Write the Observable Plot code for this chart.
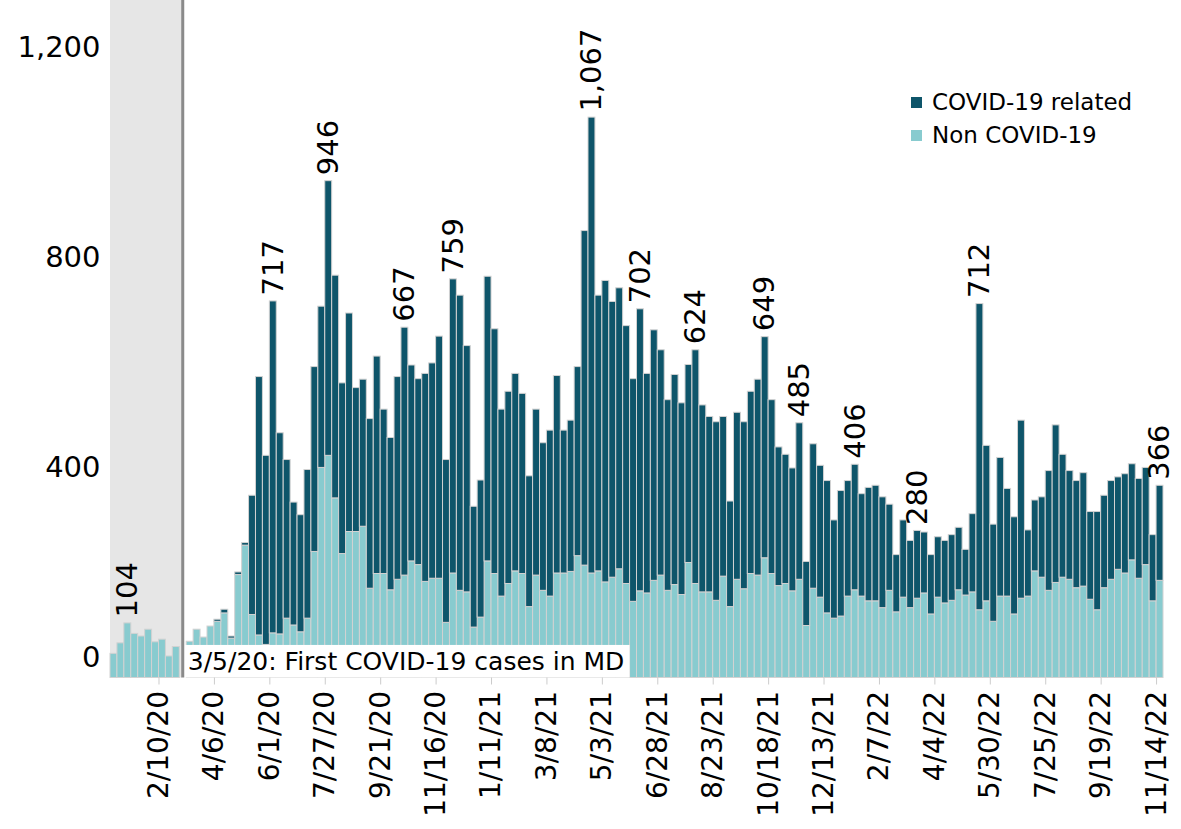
<!DOCTYPE html>
<html>
<head>
<meta charset="utf-8">
<script src="https://cdn.jsdelivr.net/npm/d3@7"></script>
<script src="https://cdn.jsdelivr.net/npm/@observablehq/plot@0.6"></script>
<style>
  html, body { margin: 0; padding: 0; background: white; }
  #wrap { position: relative; width: 1181px; height: 829px; font-family: "DejaVu Sans", sans-serif; }
  #legend { position: absolute; left: 911px; top: 86px; font-size: 23px; line-height: 33px; color: #000; }
  #legend .sw { display: inline-block; width: 11px; height: 11px; margin-right: 10px; vertical-align: 2px; }
</style>
</head>
<body>
<div id="wrap"></div>
<script>
// ---- Data (weekly admissions, week starting Monday) ----
const firstWeek = "2019-12-23";
const firstCaseDate = "2020-03-05";
const annotationEnd = "2021-05-31";
const annotationText = "3/5/20: First COVID-19 cases in MD";
const seriesNames = ["COVID-19 related", "Non COVID-19"];
const colors = ["#0e556a", "#88cbcf"];

// total weekly count (null = no bar)
const totals = [
  46,66,104,84,79,92,68,73,41,59,
  null,69,92,77,98,111,130,79,201,257,
  347,573,423,717,466,415,334,310,396,592,
  707,946,766,561,694,552,568,493,612,511,
  457,573,667,595,569,579,599,650,415,759,
  728,632,326,376,764,664,511,545,579,541,
  384,511,447,471,575,471,490,592,851,1067,
  728,756,716,742,670,569,702,579,662,624,
  529,577,523,596,624,519,497,487,497,336,
  505,487,545,568,649,529,439,425,399,485,
  221,445,404,375,300,356,375,406,350,362,
  366,344,330,234,300,261,280,277,234,268,
  261,272,286,244,312,712,442,292,419,360,
  306,490,281,338,344,394,481,425,394,375,
  390,316,316,347,375,382,388,407,379,400,
  272,366
];
// non COVID-19 part of each week
const nonCovid = [
  46,66,104,84,79,92,68,73,41,59,
  null,69,92,77,98,107,123,75,196,252,
  120,81,63,85,83,113,100,87,113,240,
  400,423,342,236,278,278,288,170,198,198,
  167,187,195,222,215,183,189,189,105,199,
  166,163,96,115,222,198,155,179,203,198,
  135,195,166,155,199,199,202,232,214,199,
  203,182,191,207,179,145,165,161,185,195,
  166,177,158,219,179,163,163,147,193,135,
  187,169,198,195,228,198,175,179,165,187,
  99,170,153,123,113,117,155,167,155,146,
  146,133,166,125,153,133,151,161,121,153,
  142,147,167,157,163,129,146,107,155,155,
  121,151,155,203,191,166,181,191,187,171,
  174,149,129,171,187,206,199,224,189,215,
  146,185
];
// weeks whose total is printed above the bar
const labelledWeeks = [
  "2020-01-06","2020-06-01","2020-07-27","2020-10-12","2020-11-30",
  "2021-04-19","2021-06-07","2021-08-02","2021-10-11","2021-11-15",
  "2022-01-10","2022-03-14","2022-05-16","2022-11-14"
];
const tickLabels = [
  "2020-02-10","2020-04-06","2020-06-01","2020-07-27","2020-09-21","2020-11-16",
  "2021-01-11","2021-03-08","2021-05-03","2021-06-28","2021-08-23","2021-10-18",
  "2021-12-13","2022-02-07","2022-04-04","2022-05-30","2022-07-25","2022-09-19",
  "2022-11-14"
];
const yTicks = [400, 800, 1200];

// ---- Build rows ----
const start = new Date(firstWeek);
const rows = totals.map((t, i) => {
  const date = d3.utcDay.offset(start, 7 * i);
  return {date, end: d3.utcDay.offset(date, 7), mid: d3.utcHour.offset(date, 84), total: t, non: nonCovid[i]};
}).filter(d => d.total != null);
const lastEnd = d3.utcDay.offset(start, 7 * totals.length);
const labelSet = new Set(labelledWeeks);
const labelRows = rows.filter(d => labelSet.has(d3.utcFormat("%Y-%m-%d")(d.date)));
const fmt = d3.format(",");
const fc = new Date(firstCaseDate);

const chart = Plot.plot({
  width: 1181,
  height: 829,
  marginLeft: 110,
  marginRight: 18,
  marginTop: 0,
  marginBottom: 151.5,
  style: {fontFamily: "DejaVu Sans, sans-serif", fontSize: "29px", background: "white", color: "black", overflow: "visible"},
  x: {type: "utc", domain: [start, lastEnd]},
  y: {domain: [0, 1290]},
  marks: [
    Plot.rect([{x1: start, x2: fc}], {x1: "x1", x2: "x2", fill: "#e6e6e6"}),
    Plot.rect(rows, {x1: "date", x2: "end", y1: 0, y2: "non", fill: colors[1], stroke: "#d2d2d2", strokeWidth: 1}),
    Plot.rect(rows.filter(d => d.total > d.non), {x1: "date", x2: "end", y1: "non", y2: "total", fill: colors[0], stroke: "#d2d2d2", strokeWidth: 1}),
    Plot.rect([{x1: fc, x2: new Date(annotationEnd)}], {x1: "x1", x2: "x2", y1: 0, y2: 62, fill: "white"}),
    Plot.ruleX([fc], {stroke: "#8a8a8a", strokeWidth: 3}),
    Plot.text([annotationText], {x: fc, y: 31, text: d => d, textAnchor: "start", dx: 5, fontSize: 25, fill: "black"}),
    Plot.text(labelRows, {x: "mid", y: "total", text: d => fmt(d.total), rotate: -90, textAnchor: "start", dy: -6, fontSize: 29, fill: "black"}),
    Plot.axisY({ticks: yTicks, tickSize: 0, tickPadding: 10, tickFormat: fmt, fontSize: 29, label: null}),
    Plot.axisY({ticks: [0], tickSize: 0, tickPadding: 10, tickFormat: fmt, fontSize: 29, dy: -20, label: null}),
    Plot.axisX({ticks: tickLabels.map(s => new Date(s)), tickFormat: d3.utcFormat("%-m/%-d/%y"), tickRotate: -90, tickSize: 7, tickPadding: 6, fontSize: 28, stroke: "#cccccc", fill: "black", label: null})
  ]
});

const wrap = document.getElementById("wrap");
wrap.appendChild(chart);
const legend = document.createElement("div");
legend.id = "legend";
legend.innerHTML = seriesNames.map((n, i) => `<div><span class="sw" style="background:${colors[i]}"></span>${n}</div>`).join("");
wrap.appendChild(legend);
</script>
</body>
</html>
